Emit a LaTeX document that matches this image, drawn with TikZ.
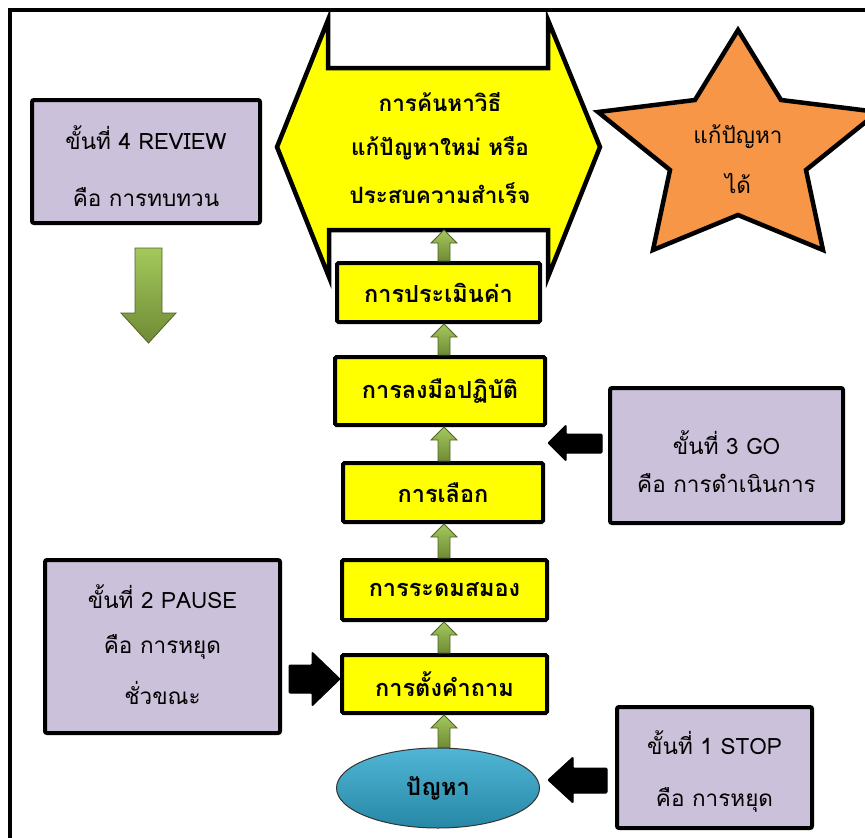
\documentclass[tikz,border=0pt]{standalone}
\usepackage{fontspec}
\setmainfont[Script=Thai]{Loma}
\usetikzlibrary{calc,shapes.geometric}
\definecolor{ylw}{HTML}{FFFF00}
\definecolor{prp}{HTML}{CCC1DA}
\definecolor{org}{HTML}{F79646}
\definecolor{grnL}{HTML}{A4C85C}
\definecolor{grnD}{HTML}{6F8B35}
\definecolor{grnB}{HTML}{4F6228}
\definecolor{blu}{HTML}{31A9CF}
\tikzset{
  ybox/.style={draw=black,line width=4pt,fill=ylw,rounded corners=1.5pt,inner sep=0pt,
    font=\fontsize{23.5}{28}\selectfont\bfseries},
  pbox/.style={draw=black,line width=4pt,fill=prp,rounded corners=2pt,inner sep=0pt},
  ptext/.style={font=\fontsize{22.5}{27}\selectfont,inner sep=0pt},
  btext/.style={font=\fontsize{22.5}{27}\selectfont\bfseries,inner sep=0pt},
  garrow/.style={draw=grnB,line width=0.8pt,top color=grnL,bottom color=grnD},
  karrow/.style={fill=black,draw=black,line width=1pt,rounded corners=1pt},
}
\begin{document}
\begin{tikzpicture}[x=1pt,y=-1pt]
\useasboundingbox (0,0) rectangle (865,838);
% frame
\draw[line width=4pt] (10,900) -- (10,10) -- (900,10);
% big yellow shape
\draw[line width=4.5pt,fill=ylw,line join=miter]
  (328,20) -- (328,68) -- (548,68) -- (548,20) -- (600,147) -- (548,277)
  -- (548,230) -- (329,230) -- (329,277) -- (277,147) -- cycle;
\node[btext] (g1) at (440,102) {การค้นหาวิธี};
\node[btext] (g2) at (440,148) {แก้ปัญหาใหม่ หรือ};
\node[btext] (g3) at (440,193) {ประสบความสำเร็จ};
\coordinate (goal) at (444,230);
% star
\draw[line width=4.5pt,fill=org,line join=miter]
  (738,30) -- (781,100) -- (878,112) -- (806,170) -- (823,250) -- (738,215)
  -- (653,250) -- (670,170) -- (598,112) -- (695,100) -- cycle;
\node[ptext] (s1) at (738,137) {แก้ปัญหา};
\node[ptext] (s2) at (738,183) {ได้};
% yellow boxes
\node[ybox,minimum width=203,minimum height=59] (b5) at (438.5,292.5) {การประเมินค่า};
\node[ybox,minimum width=210,minimum height=68] (b4) at (440,391) {การลงมือปฏิบัติ};
\node[ybox,minimum width=200,minimum height=59] (b3) at (443,492.5) {การเลือก};
\node[ybox,minimum width=205,minimum height=60] (b2) at (444.5,590) {การระดมสมอง};
\node[ybox,minimum width=205,minimum height=58] (b1) at (444.5,684) {การตั้งคำถาม};
\node[ellipse,draw=black!80,line width=1pt,top color=blu!85!white,bottom color=blu!80!black,
  minimum width=203,minimum height=80,inner sep=0pt,font=\fontsize{23.5}{28}\selectfont\bfseries]
  (b0) at (438,788) {ปัญหา};
% green up arrows
\foreach \lo/\hi in {b0/b1,b1/b2,b2/b3,b3/b4,b4/b5,b5/goal}{
  \path[garrow] let \p1=(\lo.north), \p2=(\hi.south) in
    (444pt-6pt,\y1) -- (444pt-6pt,\y2-13pt) -- (444pt-13pt,\y2-13pt) -- (444pt,\y2)
    -- (444pt+13pt,\y2-13pt) -- (444pt+6pt,\y2-13pt) -- (444pt+6pt,\y1) -- cycle;
}
% purple boxes
\node[pbox,minimum width=228,minimum height=123] (p4) at (146,161.5) {};
\node[ptext] (p4a) at (146,138) {ขั้นที่ 4 REVIEW};
\node[ptext] (p4b) at (146,197) {คือ การทบทวน};
\node[pbox,minimum width=233,minimum height=135] (p3) at (726.5,455.5) {};
\node[ptext] (p3a) at (726.5,443) {ขั้นที่ 3 GO};
\node[ptext] (p3b) at (726.5,483) {คือ การดำเนินการ};
\node[pbox,minimum width=235,minimum height=173] (p2) at (162.5,646.5) {};
\node[ptext] (p2a) at (162.5,597) {ขั้นที่ 2 PAUSE};
\node[ptext] (p2b) at (162.5,647) {คือ การหยุด};
\node[ptext] (p2c) at (162.5,693) {ชั่วขณะ};
\node[pbox,minimum width=195,minimum height=121] (p1) at (714.5,767.5) {};
\node[ptext] (p1a) at (714.5,743) {ขั้นที่ 1 STOP};
\node[ptext] (p1b) at (714.5,800) {คือ การหยุด};
% big green down arrow
\path[garrow] (135,248) -- (162,248) -- (162,313) -- (176,313) -- (148.5,343)
  -- (121,313) -- (135,313) -- cycle;
% black block arrows
\path[karrow] (602,434) -- (566,434) -- (566,425) -- (548,443) -- (566,461)
  -- (566,453) -- (602,453) -- cycle;
\path[karrow] (289,665) -- (312,665) -- (312,652) -- (340,679) -- (312,706)
  -- (312,693) -- (289,693) -- cycle;
\path[karrow] (607,768) -- (573,768) -- (573,757) -- (548,780) -- (573,803)
  -- (573,793) -- (607,793) -- cycle;
\end{tikzpicture}
\end{document}
